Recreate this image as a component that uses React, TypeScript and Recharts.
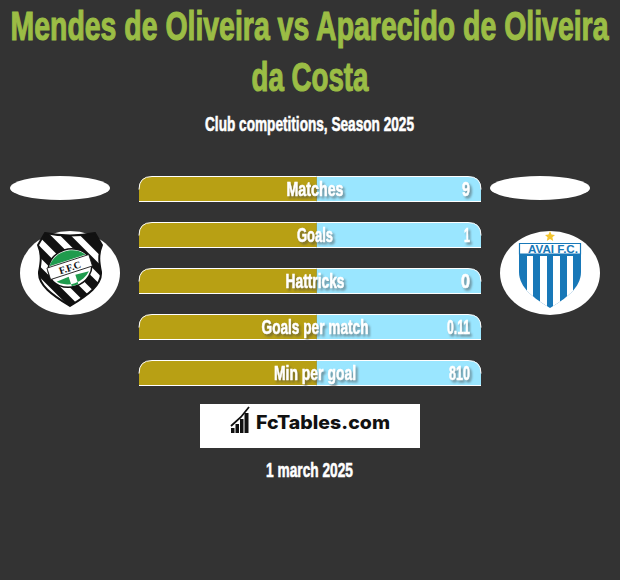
import { Bar, BarChart, LabelList, XAxis, YAxis } from 'recharts';

const categories = ['Matches', 'Goals', 'Hattricks', 'Goals per match', 'Min per goal'];
const leftShare = [52, 52, 52, 52, 52];
const rightShare = [48, 48, 48, 48, 48];
const rightValues = ['9', '1', '0', '0.11', '810'];

const data = categories.map((label, i) => ({
  label,
  left: leftShare[i],
  right: rightShare[i],
  shown: rightValues[i],
}));

const W = 620;
const H = 580;
const PLOT_LEFT = 139;
const PLOT_WIDTH = 342;
const CORNER = 13;
const NARROW = '"Liberation Sans Narrow", "Liberation Sans", sans-serif';
const labelWidths: Record<string, number> = {
  Matches: 57,
  Goals: 36,
  Hattricks: 59,
  'Goals per match': 107,
  'Min per goal': 82,
};
const valueWidths: Record<string, number> = { '9': 8, '1': 6, '0': 9, '0.11': 23, '810': 21 };

function LeftBar({ x, y, width, height }: any) {
  const d = `M${x},${y + height}V${y + CORNER}Q${x},${y} ${x + CORNER},${y}H${x + width}V${y + height}Z`;
  return (
    <g>
      <path d={d} fill="#b8a014" />
      <path d={`M${x},${y + height}H${x + width}M${x},${y + CORNER}Q${x},${y} ${x + CORNER},${y}H${x + width}`} fill="none" stroke="#fff" />
    </g>
  );
}

function RightBar({ x, y, width, height }: any) {
  const r = x + width;
  const d = `M${x},${y}H${r - CORNER}Q${r},${y} ${r},${y + CORNER}V${y + height}H${x}Z`;
  return (
    <g>
      <path d={d} fill="#9ae6ff" />
      <path d={`M${x},${y + height}H${r}M${x},${y}H${r - CORNER}Q${r},${y} ${r},${y + CORNER}`} fill="none" stroke="#fff" />
    </g>
  );
}

const shadow = { filter: 'drop-shadow(2px 2px 1px rgba(70,70,70,0.55))' };

// narrow bold stretched upwards, the nearest installed thing to the condensed display face
function Stretched({ x, y, text, size, width, fill, anchor = 'middle', weight = 0.5, style }: any) {
  return (
    <text
      transform={`translate(${x},${y}) scale(1,1.15)`}
      fill={fill}
      stroke={fill}
      strokeWidth={weight}
      fontFamily={NARROW}
      fontWeight={700}
      fontSize={size}
      textAnchor={anchor}
      textLength={width}
      lengthAdjust="spacingAndGlyphs"
      style={style}
    >
      {text}
    </text>
  );
}

function CategoryLabel({ y, height, value }: any) {
  return (
    <Stretched
      x={PLOT_LEFT + PLOT_WIDTH / 2 + 5}
      y={y + height / 2 + 7}
      text={value}
      size={17}
      width={labelWidths[value]}
      fill="#fff"
      style={shadow}
    />
  );
}

function ValueLabel({ x, width, y, height, value }: any) {
  return (
    <Stretched
      x={x + width - 11}
      y={y + height / 2 + 7}
      text={value}
      size={17}
      width={valueWidths[value]}
      fill="#fff"
      anchor="end"
      style={shadow}
    />
  );
}

function FigueirenseBadge() {
  const shield = 'M45,233 Q70,238 95,233 L102,245 C98,255 99,262 101,272 C102,285 88,295 70,306 C52,295 38,285 39,272 C41,262 42,255 38,245 Z';
  return (
    <g>
      <ellipse cx={70} cy={273} rx={50} ry={42} fill="#fff" />
      <clipPath id="fig-shield">
        <path d={shield} />
      </clipPath>
      <path d={shield} fill="#111" />
      <g clipPath="url(#fig-shield)" stroke="#fff" strokeWidth={6.5}>
        <path d="M30,232 L100,302" />
        <path d="M46,226 L110,290" />
        <path d="M66,226 L116,276" />
        <path d="M28,250 L84,306" />
        <path d="M24,266 L66,308" />
      </g>
      <path d={shield} fill="none" stroke="#111" strokeWidth={2} />
      <g transform="rotate(-18 70 268)">
        <ellipse cx={70} cy={268} rx={22} ry={19} fill="#fff" stroke="#111" strokeWidth={1.5} />
        <path d="M51,260 A22,19 0 0 1 89,260 Z" fill="#1f9b4d" />
        <path d="M53,277 A22,19 0 0 0 87,277 L73,276 L73,286 L66,286 L66,276 Z" fill="#1f9b4d" />
        <rect x={48} y={261} width={44} height={12} fill="#fff" stroke="#111" strokeWidth={0.8} />
        <text x={70} y={271} fontSize={10} fontWeight={700} fontFamily="Liberation Serif" textAnchor="middle" fill="#111">
          F.F.C
        </text>
      </g>
    </g>
  );
}

function AvaiBadge() {
  const shield = 'M519,243 H581 V272 C581,288 565,299 550,308 C535,299 519,288 519,272 Z';
  return (
    <g>
      <ellipse cx={550} cy={273} rx={50} ry={42} fill="#fff" />
      <path d="M550,231 L551.5,234.5 L555,235 L552.4,237.3 L553.2,241 L550,239 L546.8,241 L547.6,237.3 L545,235 L548.5,234.5 Z" fill="#f3c530" />
      <path d={shield} fill="#1878b8" />
      <path d="M519.5,243.5 H580.5 V254 H519.5 Z" fill="#fff" stroke="#1878b8" strokeWidth={1.2} />
      <clipPath id="avai-shield">
        <path d={shield} />
      </clipPath>
      <g clipPath="url(#avai-shield)" fill="#fff">
        <rect x={527} y={256} width={6} height={52} />
        <rect x={540} y={256} width={7} height={52} />
        <rect x={553} y={256} width={7} height={52} />
        <rect x={567} y={256} width={6} height={52} />
      </g>
      <text x={528} y={252.5} fontSize={10} fontWeight={700} fontFamily="Liberation Sans" fill="#1878b8" textLength={50} lengthAdjust="spacingAndGlyphs">
        AVAI F.C.
      </text>
    </g>
  );
}

function BrandBox() {
  return (
    <g>
      <rect x={200} y={404} width={220} height={44} fill="#fff" />
      <g fill="#111">
        <rect x={231} y={428} width={3.5} height={5} />
        <rect x={235.5} y={424} width={3.5} height={9} />
        <rect x={240} y={419} width={3.5} height={14} />
        <rect x={244.5} y={413} width={4} height={20} />
      </g>
      <path d="M231,426 L241,417 L249,407" fill="none" stroke="#111" strokeWidth={1.8} />
      <text x={256} y={429} fill="#111" fontFamily="Inter, 'Open Sans', sans-serif" fontWeight={800} fontSize={18.5} textLength={134} lengthAdjust="spacingAndGlyphs">
        FcTables.com
      </text>
    </g>
  );
}

export default function App() {
  return (
    <div style={{ position: 'absolute', left: 0, top: 0, width: W, height: H, background: '#333333', overflow: 'hidden' }}>
      <svg width={W} height={H} style={{ position: 'absolute', left: 0, top: 0 }}>
        <Stretched x={309.5} y={40} text="Mendes de Oliveira vs Aparecido de Oliveira" size={35} width={598} fill="#9bbd45" weight={1} />
        <Stretched x={310} y={91} text="da Costa" size={35} width={117} fill="#9bbd45" weight={1} />
        <Stretched x={309.5} y={131} text="Club competitions, Season 2025" size={17} width={209} fill="#fff" />
        <ellipse cx={60} cy={188} rx={50} ry={12} fill="#fff" />
        <ellipse cx={540} cy={188} rx={50} ry={12} fill="#fff" />
        <FigueirenseBadge />
        <AvaiBadge />
        <BrandBox />
        <Stretched x={309.5} y={477} text="1 march 2025" size={17} width={87} fill="#fff" />
      </svg>
      <div style={{ position: 'absolute', left: 0, top: 0 }}>
        <BarChart
          width={W}
          height={H}
          data={data}
          layout="vertical"
          margin={{ top: 165.5, right: 139, bottom: 184.5, left: 139 }}
          barSize={25}
        >
          <XAxis type="number" domain={[0, 100]} hide />
          <YAxis type="category" dataKey="label" hide />
          <Bar dataKey="left" stackId="share" shape={LeftBar} isAnimationActive={false} />
          <Bar dataKey="right" stackId="share" shape={RightBar} isAnimationActive={false}>
            <LabelList dataKey="label" content={CategoryLabel} />
            <LabelList dataKey="shown" content={ValueLabel} />
          </Bar>
        </BarChart>
      </div>
    </div>
  );
}
